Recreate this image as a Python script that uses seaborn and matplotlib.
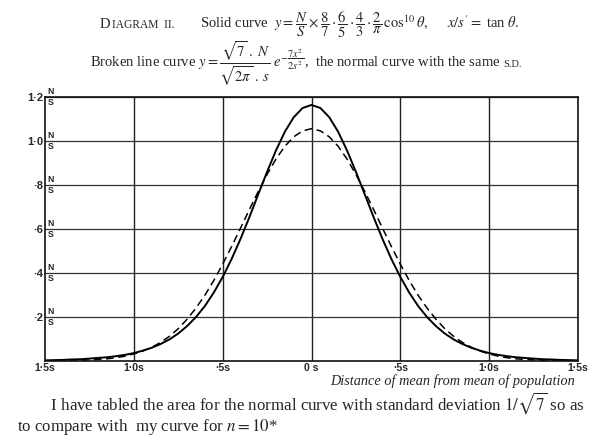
import matplotlib
matplotlib.use("Agg")
import matplotlib.pyplot as plt
import seaborn as sns
import pandas as pd

# ---- data (x in units of s, y in units of N/S) ----
distance = [-1.5, -1.45, -1.4, -1.35, -1.3, -1.25, -1.2, -1.15, -1.1, -1.05,
            -1.0, -0.95, -0.9, -0.85, -0.8, -0.75, -0.7, -0.65, -0.6, -0.55,
            -0.5, -0.45, -0.4, -0.35, -0.3, -0.25, -0.2, -0.15, -0.1, -0.05,
            0.0,
            0.05, 0.1, 0.15, 0.2, 0.25, 0.3, 0.35, 0.4, 0.45, 0.5,
            0.55, 0.6, 0.65, 0.7, 0.75, 0.8, 0.85, 0.9, 0.95, 1.0,
            1.05, 1.1, 1.15, 1.2, 1.25, 1.3, 1.35, 1.4, 1.45, 1.5]

solid_curve = [0.003, 0.004, 0.005, 0.007, 0.008, 0.011, 0.014, 0.017, 0.022, 0.028,
               0.036, 0.047, 0.060, 0.077, 0.098, 0.125, 0.159, 0.200, 0.250, 0.311,
               0.382, 0.463, 0.554, 0.653, 0.757, 0.860, 0.957, 1.042, 1.108, 1.150,
               1.164,
               1.150, 1.108, 1.042, 0.957, 0.860, 0.757, 0.653, 0.554, 0.463, 0.382,
               0.311, 0.250, 0.200, 0.159, 0.125, 0.098, 0.077, 0.060, 0.047, 0.036,
               0.028, 0.022, 0.017, 0.014, 0.011, 0.008, 0.007, 0.005, 0.004, 0.003]

normal_curve = [0.000, 0.001, 0.001, 0.002, 0.003, 0.005, 0.007, 0.010, 0.015, 0.022,
                0.032, 0.045, 0.062, 0.084, 0.112, 0.147, 0.190, 0.241, 0.299, 0.366,
                0.440, 0.520, 0.603, 0.688, 0.770, 0.848, 0.918, 0.976, 1.019, 1.046,
                1.056,
                1.046, 1.019, 0.976, 0.918, 0.848, 0.770, 0.688, 0.603, 0.520, 0.440,
                0.366, 0.299, 0.241, 0.190, 0.147, 0.112, 0.084, 0.062, 0.045, 0.032,
                0.022, 0.015, 0.010, 0.007, 0.005, 0.003, 0.002, 0.001, 0.001, 0.000]

x_ticks = [-1.5, -1.0, -0.5, 0.0, 0.5, 1.0, 1.5]
x_tick_labels = ["1·5s", "1·0s", "·5s", "0 s", "·5s", "1·0s", "1·5s"]
y_ticks = [0.2, 0.4, 0.6, 0.8, 1.0, 1.2]
y_tick_labels = ["·2", "·4", "·6", "·8", "1·0", "1·2"]

df = pd.DataFrame({"distance": distance, "solid": solid_curve, "normal": normal_curve})

sns.set_theme(style="white")
plt.rcParams["font.family"] = ["Liberation Serif", "DejaVu Serif"]
plt.rcParams["mathtext.fontset"] = "stix"

W, H = 616, 441
fig = plt.figure(figsize=(W / 100, H / 100), dpi=100)
fig.patch.set_facecolor("white")
ax = fig.add_axes([45 / W, 1 - 361 / H, 533 / W, 264 / H])
ax.set_facecolor("white")

sns.lineplot(data=df, x="distance", y="solid", ax=ax, color="black", lw=1.4, sort=False)
sns.lineplot(data=df, x="distance", y="normal", ax=ax, color="black", lw=1.1, sort=False,
             linestyle=(0, (5, 3)))

ax.set_xlim(-1.5, 1.5)
ax.set_ylim(0, 1.2)
ax.set_xlabel("")
ax.set_ylabel("")

# grid lines
for xv in [-1.0, -0.5, 0.0, 0.5, 1.0]:
    ax.axvline(xv, color="#222222", lw=1.0, zorder=1)
for yv in y_ticks:
    ax.axhline(yv, color="#333333", lw=0.9, zorder=1)
for sp in ax.spines.values():
    sp.set_visible(True)
    sp.set_color("#111111")
    sp.set_linewidth(1.2)

ax.set_xticks(x_ticks)
ax.set_xticklabels(x_tick_labels, fontsize=7.5, fontweight="bold", family="Liberation Sans")
ax.set_yticks(y_ticks)
ax.set_yticklabels(y_tick_labels, fontsize=8, fontweight="bold", family="Liberation Sans")
ax.tick_params(axis="both", length=0, pad=1.5)

# N/S fraction marks next to each horizontal line
for yv in y_ticks:
    ax.text(-1.484, yv + 0.003, "N", fontsize=6.3, fontweight="bold", family="Liberation Sans",
            ha="left", va="bottom")
    ax.text(-1.484, yv - 0.003, "S", fontsize=6.3, fontweight="bold", family="Liberation Sans",
            ha="left", va="top")

def fy(py):
    return 1 - py / H

renderer = fig.canvas.get_renderer()

def right_px(t):
    return t.get_window_extent(renderer=renderer).x1

# title line 1
t = fig.text(100 / W, fy(28), "D", fontsize=10.5, ha="left", va="baseline")
t = fig.text((right_px(t) + 1.5) / W, fy(28), "IAGRAM  II.", fontsize=8.3, ha="left", va="baseline")
fig.text(200 / W, fy(28),
         r"Solid curve  $y=\dfrac{N}{S}\times\dfrac{8}{7}\cdot\dfrac{6}{5}\cdot\dfrac{4}{3}\cdot\dfrac{2}{\pi}\,\mathrm{cos}^{10}\,\theta,$     $x/s'=$ tan $\theta$.",
         fontsize=10.5, ha="left", va="baseline")

# title line 2
t = fig.text(90 / W, fy(67),
             r"Broken line curve $y=\dfrac{\sqrt{7}\;.\;N}{\sqrt{2\pi}\;.\;s}\;e^{-\dfrac{7x^2}{2s^2}}$,  the normal curve with the same",
             fontsize=10.5, ha="left", va="baseline")
fig.text((right_px(t) + 3) / W, fy(67), "S.D.", fontsize=7.5, ha="left", va="baseline")

# axis caption
fig.text(575 / W, fy(385), "Distance of mean from mean of population", fontsize=10.3,
         style="italic", ha="right", va="baseline")

# body text
fig.text(17 / W, fy(431),
         "        I have tabled the area for the normal curve with standard deviation $1/\\sqrt{7}$ so as\n"
         "to compare with  my curve for $n=10$*",
         fontsize=12.2, ha="left", va="baseline", linespacing=1.05)

fig.savefig("out.png", dpi=100, facecolor="white")
